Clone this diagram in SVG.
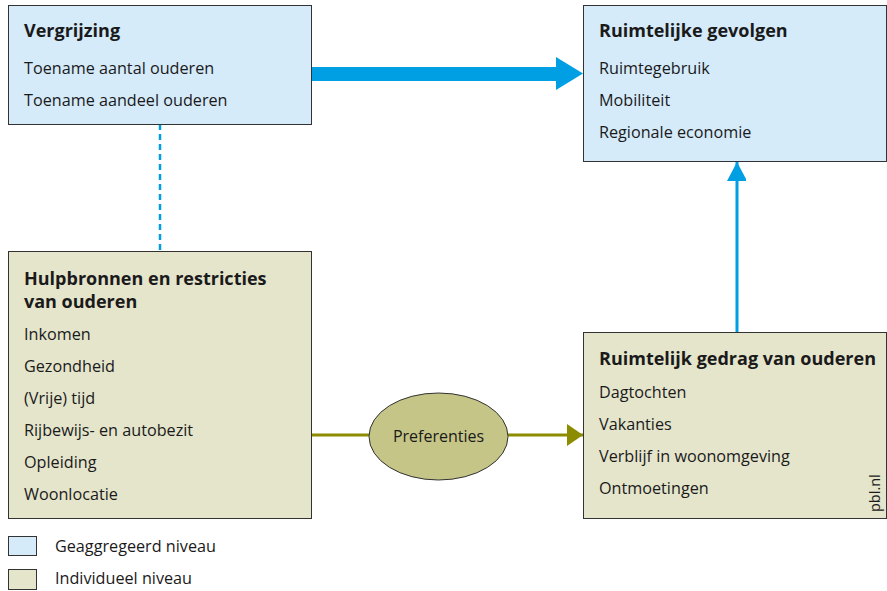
<svg xmlns="http://www.w3.org/2000/svg" width="887" height="591" viewBox="0 0 887 591">
<style>
.blue{fill:#d5ebfa;stroke:#333;stroke-width:1}
.beige{fill:#e5e5cc;stroke:#333;stroke-width:1}
text{font-family:"Open Sans","Noto Sans",sans-serif;fill:#1a1a1a}
.t{font-size:18px;font-weight:bold}
.i{font-size:16.2px}
</style>
<defs>
<marker id="oa" markerUnits="userSpaceOnUse" markerWidth="16" markerHeight="22" refX="16" refY="11" orient="auto"><path d="M0,0L16,11L0,22Z" fill="#8c8c00"/></marker>
<marker id="ba" markerUnits="userSpaceOnUse" markerWidth="20" markerHeight="19" refX="19" refY="10" orient="auto"><path d="M0,0L19,10L0,20Z" fill="#009fe3"/></marker>
</defs>
<g id="connectors">
<line x1="160" y1="124" x2="160" y2="251" stroke="#009fe3" stroke-width="2.5" stroke-dasharray="6,4"/>
<path d="M312,67H556V57L583,73.5L556,90V81H312Z" fill="#009fe3"/>
<line x1="737" y1="332" x2="737" y2="162" stroke="#009fe3" stroke-width="3" marker-end="url(#ba)"/>
<line x1="312" y1="435" x2="369" y2="435" stroke="#8c8c00" stroke-width="3"/>
<line x1="508" y1="435" x2="583" y2="435" stroke="#8c8c00" stroke-width="3" marker-end="url(#oa)"/>
</g>
<g id="vergrijzing">
<rect class="blue" x="8.5" y="5.5" width="303" height="119"/>
<text class="t" x="24" y="37">Vergrijzing</text>
<text class="i" x="24" y="74">Toename aantal ouderen</text>
<text class="i" x="24" y="106">Toename aandeel ouderen</text>
</g>
<g id="gevolgen">
<rect class="blue" x="583.5" y="5.5" width="303" height="156"/>
<text class="t" x="599" y="37">Ruimtelijke gevolgen</text>
<text class="i" x="599" y="74">Ruimtegebruik</text>
<text class="i" x="599" y="106">Mobiliteit</text>
<text class="i" x="599" y="138">Regionale economie</text>
</g>
<g id="hulpbronnen">
<rect class="beige" x="8.5" y="251.5" width="303" height="267"/>
<text class="t" x="24" y="285">Hulpbronnen en restricties</text>
<text class="t" x="24" y="308">van ouderen</text>
<text class="i" x="24" y="340">Inkomen</text>
<text class="i" x="24" y="372">Gezondheid</text>
<text class="i" x="24" y="404">(Vrije) tijd</text>
<text class="i" x="24" y="436">Rijbewijs- en autobezit</text>
<text class="i" x="24" y="468">Opleiding</text>
<text class="i" x="24" y="500">Woonlocatie</text>
</g>
<g id="gedrag">
<rect class="beige" x="583.5" y="332.5" width="303" height="186"/>
<text class="t" x="599" y="365">Ruimtelijk gedrag van ouderen</text>
<text class="i" x="599" y="398">Dagtochten</text>
<text class="i" x="599" y="430">Vakanties</text>
<text class="i" x="599" y="462">Verblijf in woonomgeving</text>
<text class="i" x="599" y="494">Ontmoetingen</text>
<text x="880" y="512" font-size="14.5" transform="rotate(-90 880 512)">pbl.nl</text>
</g>
<g id="preferenties">
<ellipse cx="438.5" cy="436.5" rx="69.5" ry="43.5" fill="#c5c587" stroke="#333" stroke-width="1"/>
<text x="438.5" y="442" font-size="16" text-anchor="middle">Preferenties</text>
</g>
<g id="legend">
<rect class="blue" x="8.5" y="536.5" width="28" height="19"/>
<text class="i" x="55" y="552">Geaggregeerd niveau</text>
<rect class="beige" x="8.5" y="569.5" width="28" height="20"/>
<text class="i" x="55" y="584">Individueel niveau</text>
</g>
</svg>
